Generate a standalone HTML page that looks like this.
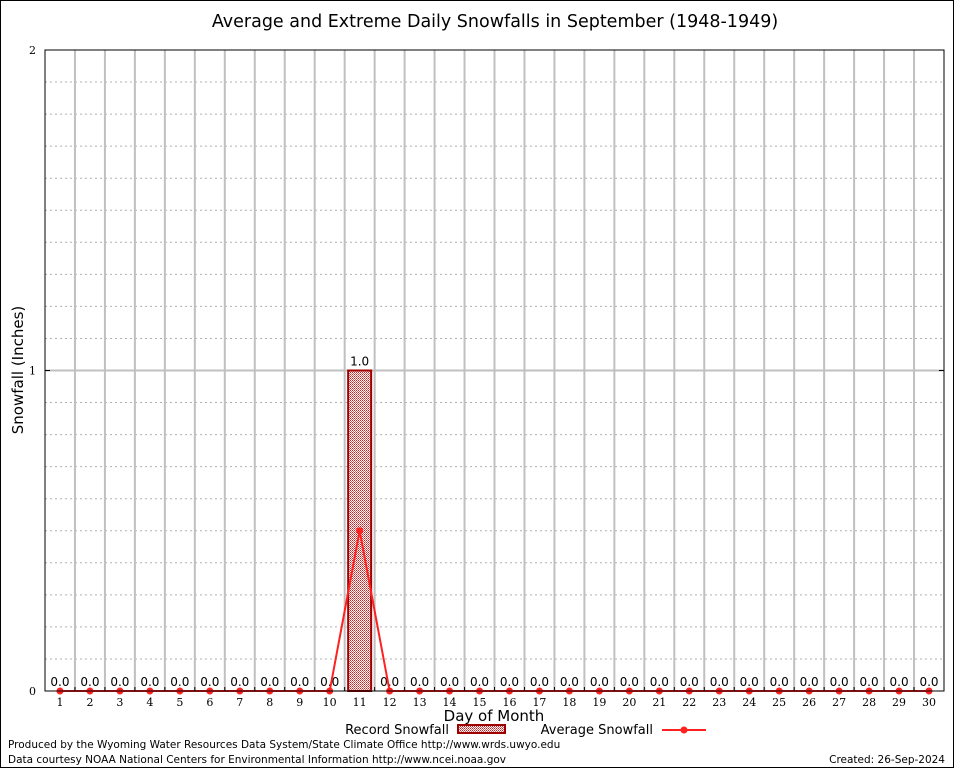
<!DOCTYPE html>
<html><head><meta charset="utf-8"><style>
body{margin:0;background:#fff}
svg{display:block}
text{font-family:"DejaVu Sans","Liberation Sans",sans-serif}
.serif{font-family:"DejaVu Serif","Liberation Serif",serif}
</style></head><body>
<svg id="chart" width="954" height="768" xmlns="http://www.w3.org/2000/svg">
<defs>
<pattern id="chk" width="2" height="2" patternUnits="userSpaceOnUse">
<rect width="2" height="2" fill="#fff"/><rect width="1" height="1" fill="#c82020"/><rect x="1" y="1" width="1" height="1" fill="#e06060"/>
</pattern>
</defs>
<rect x="0.5" y="0.5" width="953" height="767" fill="#fff" stroke="#000"/>
<text x="495" y="27" font-size="17.5" text-anchor="middle">Average and Extreme Daily Snowfalls in September (1948-1949)</text>
<g id="grid"></g>
<g id="marks"></g>
<rect x="45" y="50" width="899" height="641" fill="none" stroke="#000"/>
<g id="axes"></g>
<text transform="translate(23,370) rotate(-90)" font-size="15" text-anchor="middle">Snowfall (Inches)</text>
<text x="494" y="721" font-size="15" text-anchor="middle">Day of Month</text>
<text x="449" y="734" font-size="13" text-anchor="end">Record Snowfall</text>
<rect x="458" y="725" width="47" height="8" fill="url(#chk)" stroke="#a00000" stroke-width="2"/>
<text x="653" y="734" font-size="13" text-anchor="end">Average Snowfall</text>
<line x1="662" y1="730" x2="706" y2="730" stroke="#ff2020" stroke-width="2"/>
<circle cx="684" cy="730" r="3.5" fill="#ff2020"/>
<text x="8" y="748" font-size="10.5">Produced by the Wyoming Water Resources Data System/State Climate Office http://www.wrds.uwyo.edu</text>
<text x="8" y="763" font-size="10.5">Data courtesy NOAA National Centers for Environmental Information http://www.ncei.noaa.gov</text>
<text x="945" y="763" font-size="10.5" text-anchor="end">Created: 26-Sep-2024</text>
</svg>
<script>
const days = [1,2,3,4,5,6,7,8,9,10,11,12,13,14,15,16,17,18,19,20,21,22,23,24,25,26,27,28,29,30];
const recordSnow = [0,0,0,0,0,0,0,0,0,0,1.0,0,0,0,0,0,0,0,0,0,0,0,0,0,0,0,0,0,0,0];
const avgSnow = [0,0,0,0,0,0,0,0,0,0,0.5,0,0,0,0,0,0,0,0,0,0,0,0,0,0,0,0,0,0,0];
const yTicks = [0,1,2];
const NS="http://www.w3.org/2000/svg";
const L=45,R=944,T=50,B=691,yMax=2;
const bw=(R-L)/days.length;
const x=d=>L+(d-0.5)*bw;
const y=v=>B-v/yMax*(B-T);
function mk(tag,attrs,parent){const e=document.createElementNS(NS,tag);for(const k in attrs)e.setAttribute(k,attrs[k]);parent.appendChild(e);return e;}
const grid=document.getElementById('grid'),marks=document.getElementById('marks'),axes=document.getElementById('axes');
for(let v=0.1;v<yMax-0.01;v+=0.1){
 const major=Math.abs(v-Math.round(v))<0.01;
 const ln=mk('line',{x1:L,x2:R,y1:y(v),y2:y(v),stroke:major?'#c0c0c0':'#b0b0b0','stroke-width':major?2:1,'stroke-dasharray':major?'':'2,3'},grid);
 
 
}
for(let i=1;i<days.length;i++){
 const ln=mk('line',{x1:L+i*bw,x2:L+i*bw,y1:T,y2:B,stroke:'#c0c0c0','stroke-width':2},grid);
 
 
 const tk=mk('line',{x1:L+i*bw,x2:L+i*bw,y1:B-4,y2:B,stroke:'#000'},axes);
 
 
}
days.forEach((d,i)=>{
 const v=recordSnow[i];
 if(v>0){
  const r=mk('rect',{x:x(d)-11.5,y:y(v),width:23,height:B-y(v),fill:'url(#chk)',stroke:'#a00000','stroke-width':2},marks);
  
  
 }
 const t=mk('text',{x:x(d),y:y(v)-5,'font-size':12,'text-anchor':'middle'},marks);
 t.textContent=v.toFixed(1);
 
 
 const xl=mk('text',{x:x(d),y:B+15,'font-size':11,'text-anchor':'middle',class:'serif'},axes);
 xl.textContent=d;
 
 
});
const pl=mk('polyline',{points:days.map((d,i)=>x(d)+','+y(avgSnow[i])).join(' '),fill:'none',stroke:'#ff2020','stroke-width':2},marks);


days.forEach((d,i)=>{
 const c=mk('circle',{cx:x(d),cy:y(avgSnow[i]),r:3.5,fill:'#ff2020'},marks);
 
 
});
yTicks.forEach(v=>{
 const t=mk('text',{x:L-9,y:y(v)+4,'font-size':11,'text-anchor':'end',class:'serif'},axes);
 t.textContent=v;
 
 
 const tk=mk('line',{x1:L,x2:L+5,y1:y(v),y2:y(v),stroke:'#000'},axes);
 
 
 const tk2=mk('line',{x1:R-5,x2:R,y1:y(v),y2:y(v),stroke:'#000'},axes);
 
 
});
</script>
</body></html>
